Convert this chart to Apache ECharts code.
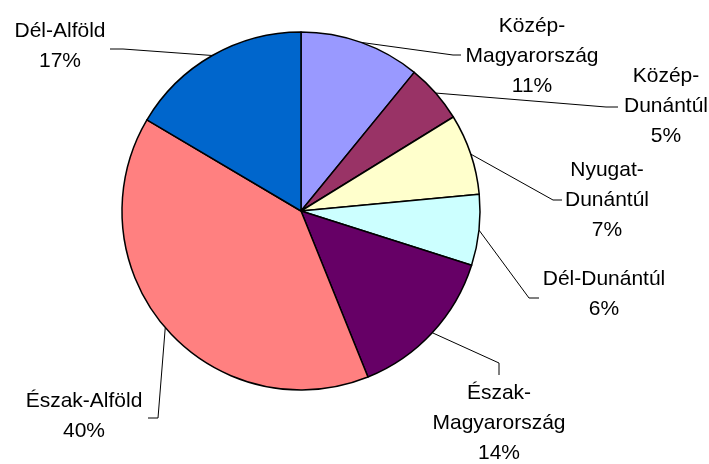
<!DOCTYPE html>
<html>
<head>
<meta charset="utf-8">
<style>
	html,body{ margin:0; padding:0; background:#fff;}
	#mainBox{ width:709px; height:464px;}
</style>
</head>
<body>
<div id="mainBox"></div>
<script src="https://cdn.jsdelivr.net/npm/echarts@6/dist/echarts.min.js"></script>
<script>
// régiók, óramutató járása szerint felülről
var regions=['Közép-Magyarország','Közép-Dunántúl','Nyugat-Dunántúl','Dél-Dunántúl','Észak-Magyarország','Észak-Alföld','Dél-Alföld'];
var shares=[10.9,5.3,7.3,6.4,14.0,39.6,16.5];
var colors=['#9999FF','#993366','#FFFFCC','#CCFFFF','#660066','#FF8080','#0066CC'];

// felirat közép, töréspont, vonalvég (elrendezés)
var labelPos=[[532,56],[666,106],[607,200],[604,294],[499,423],[84,416],[60,46]];
var lineBend=[[453,55],[606,107],[553,200],[529,298],[499,363],[158,418],[123,49]];
var lineEnd=[[461,55],[618,107],[562,200],[539,298],[499,375],[148,418],[110,49]];

var pieData=[];
for(var i=0;i<regions.length;i++){
	pieData.push({name:regions[i],value:shares[i],itemStyle:{color:colors[i]}});
}

var myChart=echarts.init(document.getElementById('mainBox'));
myChart.setOption({
	animation:false,
	series:[{
		type:'pie',
		center:[301,211],
		radius:179,
		startAngle:90,
		clockwise:true,
		avoidLabelOverlap:false,
		percentPrecision:0,
		data:pieData,
		itemStyle:{borderColor:'#000',borderWidth:1.5},
		emphasis:{disabled:true},
		label:{
			show:true,
			position:'outside',
			fontFamily:'Liberation Sans, Arial, sans-serif',
			fontSize:21,
			lineHeight:30,
			color:'#000',
			align:'center',
			formatter:function(p){
				var n=p.name;
				if(n.length>12)n=n.replace('-','-\n');
				return n+'\n'+p.percent+'%';
			}
		},
		labelLine:{show:true,length:10,length2:10,lineStyle:{color:'#000',width:1}},
		labelLayout:function(p){
			var k=p.dataIndex;
			var p0=p.labelLinePoints?p.labelLinePoints[0]:lineBend[k];
			return {
				x:labelPos[k][0],
				y:labelPos[k][1],
				align:'center',
				verticalAlign:'middle',
				labelLinePoints:[p0,lineBend[k],lineEnd[k]]
			};
		}
	}]
});
</script>
</body>
</html>
